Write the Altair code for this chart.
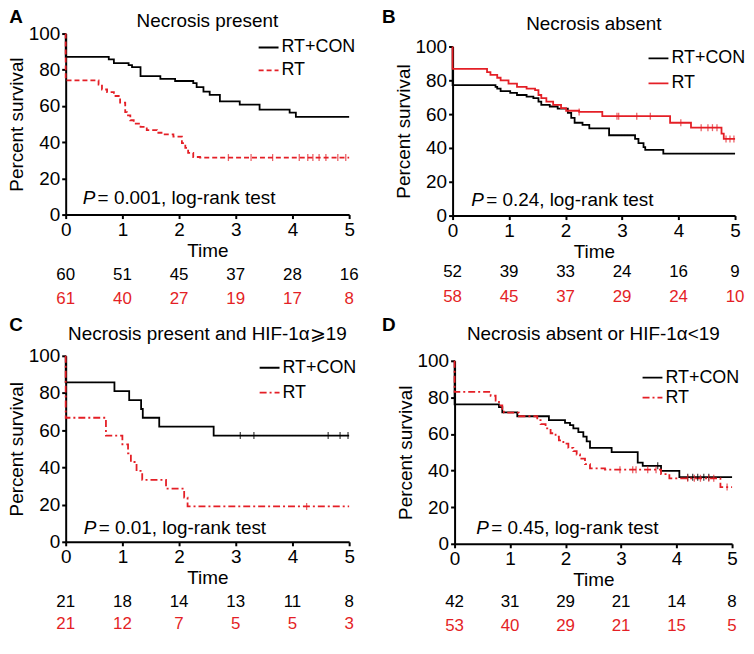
import altair as alt
import pandas as pd

FONT = "Liberation Sans"
RED = "#e41f26"
GROUPS = ["RT+CON", "RT"]
TIME_TICKS = [0, 1, 2, 3, 4, 5]
SURV_TICKS = [0, 20, 40, 60, 80, 100]

# ---------------- Panel A : Necrosis present ----------------
A_title = "Necrosis present"
A_con_t = [0, 0, 0.76, 0.85, 1.11, 1.17, 1.32, 1.67, 1.93, 2.25, 2.31, 2.43, 2.54, 2.72, 3.07, 3.42, 3.95, 4.06, 5.0]
A_con_s = [100, 87.1, 85.7, 83.7, 82.6, 81.4, 76.5, 75.0, 73.8, 72.6, 70.4, 67.9, 66.1, 62.5, 60.7, 58.0, 56.3, 54.0, 54.0]
A_rt_t = [0, 0, 0.58, 0.64, 0.73, 0.85, 0.96, 1.05, 1.08, 1.14, 1.20, 1.32, 1.43, 1.61, 1.73, 1.90, 2.05, 2.11, 2.16, 2.25, 2.37, 5.0]
A_rt_s = [100, 74.1, 71.8, 69.1, 67.7, 65.5, 61.9, 56.6, 54.8, 52.1, 50.3, 48.5, 46.7, 45.2, 44.3, 43.1, 39.5, 36.8, 34.1, 31.8, 31.5, 31.5]
A_con_cens = []
A_rt_cens = [2.87, 3.27, 3.65, 4.12, 4.27, 4.36, 4.47, 4.59, 4.80, 4.94]
A_pval = ["= 0.001, log-rank test"]
A_pval_t = [0.30]
A_pval_s = [9.1]
A_risk_con = [60, 51, 45, 37, 28, 16]
A_risk_rt = [61, 40, 27, 19, 17, 8]

# ---------------- Panel B : Necrosis absent ----------------
B_title = "Necrosis absent"
B_con_t = [0, 0, 0.76, 0.79, 0.85, 1.02, 1.14, 1.31, 1.43, 1.52, 1.57, 1.72, 1.86, 2.04, 2.10, 2.16, 2.30, 2.42, 2.77, 3.23, 3.29, 3.38, 3.41, 3.73, 5.0]
B_con_s = [100, 77.1, 76.1, 75.1, 73.6, 72.6, 71.3, 70.3, 69.4, 67.4, 65.5, 64.5, 63.2, 60.7, 57.8, 54.9, 53.6, 51.6, 47.5, 45.3, 42.8, 40.5, 38.9, 36.6, 36.6]
B_rt_t = [0, 0, 0.61, 0.67, 0.79, 0.85, 0.99, 1.14, 1.31, 1.46, 1.52, 1.57, 1.66, 1.78, 1.92, 2.01, 2.24, 2.65, 3.85, 4.22, 4.76, 4.80, 5.0]
B_rt_s = [100, 86.7, 84.8, 83.2, 81.5, 80.0, 78.0, 76.1, 75.1, 74.2, 71.3, 69.4, 67.4, 65.5, 63.6, 62.0, 61.3, 58.8, 54.9, 52.0, 48.5, 45.3, 45.3]
B_con_cens = []
B_rt_cens = [2.24, 2.91, 2.94, 3.26, 3.50, 4.04, 4.40, 4.52, 4.60, 4.68, 4.84, 4.91, 4.98]
B_pval = ["= 0.24, log-rank test"]
B_pval_t = [0.33]
B_pval_s = [9.2]
B_risk_con = [52, 39, 33, 24, 16, 9]
B_risk_rt = [58, 45, 37, 29, 24, 10]

# ---------------- Panel C : Necrosis present and HIF-1a >= 19 ----------------
C_title = "Necrosis present and HIF-1\u03b1\u2a7e19"
C_con_t = [0, 0, 0.86, 1.12, 1.33, 1.36, 1.65, 2.61, 5.0]
C_con_s = [100, 85.7, 81.0, 76.2, 71.4, 66.7, 61.9, 57.1, 57.1]
C_rt_t = [0, 0, 0.71, 1.00, 1.10, 1.15, 1.25, 1.35, 1.77, 2.09, 2.15, 5.0]
C_rt_s = [100, 66.7, 57.1, 52.4, 47.6, 42.9, 38.1, 33.3, 28.6, 23.8, 19.0, 19.0]
C_con_cens = [3.08, 3.32, 4.63, 4.84, 4.98]
C_rt_cens = [4.25]
C_pval = ["= 0.01, log-rank test"]
C_pval_t = [0.32]
C_pval_s = [7.4]
C_risk_con = [21, 18, 14, 13, 11, 8]
C_risk_rt = [21, 12, 7, 5, 5, 3]

# ---------------- Panel D : Necrosis absent or HIF-1a < 19 ----------------
D_title = "Necrosis absent or HIF-1\u03b1<19"
D_con_t = [0, 0, 0.80, 0.86, 1.13, 1.70, 1.99, 2.08, 2.14, 2.23, 2.32, 2.38, 2.44, 2.83, 3.30, 3.39, 3.72, 4.05, 5.0]
D_con_s = [100, 76.2, 74.7, 71.8, 69.7, 67.6, 66.1, 64.8, 63.1, 61.0, 58.6, 56.0, 52.4, 50.1, 44.4, 42.6, 39.9, 36.4, 36.4]
D_rt_t = [0, 0, 0.65, 0.74, 0.80, 0.86, 0.89, 1.16, 1.49, 1.55, 1.64, 1.73, 1.82, 1.88, 1.96, 2.05, 2.14, 2.20, 2.26, 2.35, 2.44, 2.71, 3.72, 3.87, 4.79, 5.0]
D_rt_s = [100, 83.0, 80.9, 78.3, 75.6, 73.8, 71.7, 69.7, 67.6, 65.4, 63.1, 60.4, 58.6, 56.5, 54.7, 52.4, 50.6, 48.8, 46.5, 43.5, 41.2, 40.5, 38.1, 35.8, 31.0, 31.0]
D_con_cens = [3.66, 4.20, 4.29, 4.38, 4.49, 4.58]
D_rt_cens = [2.98, 3.21, 3.27, 3.48, 3.63, 4.20, 4.32, 4.43, 4.58, 4.67, 4.91]
D_pval = ["= 0.45, log-rank test"]
D_pval_t = [0.39]
D_pval_s = [8.6]
D_risk_con = [42, 31, 29, 21, 14, 8]
D_risk_rt = [53, 40, 29, 21, 15, 5]


def surv_at(ts, ss, t):
    val = ss[0]
    for ti, si in zip(ts, ss):
        if ti <= t:
            val = si
    return val


def panel(letter, title, con_t, con_s, rt_t, rt_s, con_cens, rt_cens, dash,
          pval, pval_t, pval_s, risk_con, risk_rt, W, H, ytop, title_y, letter_x, letter_y,
          leg_x, leg_y, leg_pad, risk_off):
    rows = []
    for g, ts, ss in (("RT+CON", con_t, con_s), ("RT", rt_t, rt_s)):
        for i, (t, s) in enumerate(zip(ts, ss)):
            rows.append({"group": g, "t": t, "s": s, "i": i})
    df = pd.DataFrame(rows)

    xs = alt.Scale(domain=[0, 5], nice=False, zero=False)
    ys = alt.Scale(domain=[0, 100], nice=False, range=[H, ytop])
    x = alt.X("t:Q", scale=xs, axis=alt.Axis(values=TIME_TICKS, title="Time", format="d"))
    y = alt.Y("s:Q", scale=ys, axis=alt.Axis(values=SURV_TICKS, title="Percent survival", format="d"))

    leg = alt.Legend(title=None, orient="none", legendX=leg_x, legendY=leg_y, padding=0,
                     symbolType="stroke", symbolSize=400, symbolStrokeWidth=1.8,
                     labelFontSize=18, labelFont=FONT, labelColor="black",
                     rowPadding=leg_pad, labelOffset=2)

    lines = alt.Chart(df).mark_line(interpolate="step-after", strokeWidth=1.8).encode(
        x=x, y=y, order=alt.Order("i:Q"),
        color=alt.Color("group:N", sort=GROUPS,
                        scale=alt.Scale(domain=GROUPS, range=["black", RED]), legend=leg),
        strokeDash=alt.StrokeDash("group:N", sort=GROUPS,
                                  scale=alt.Scale(domain=GROUPS, range=[[1, 0], dash]), legend=leg),
    )

    layers = [lines]
    for ts, ss, cens, col in ((con_t, con_s, con_cens, "black"), (rt_t, rt_s, rt_cens, RED)):
        if cens:
            cdf = pd.DataFrame({"t": cens, "s": [surv_at(ts, ss, c) for c in cens]})
            layers.append(alt.Chart(cdf).mark_tick(orient="vertical", size=7, thickness=1.3, color=col)
                          .encode(x=x, y=y))

    pdf = pd.DataFrame({"t": pval_t, "s": pval_s, "p": ["P"], "rest": pval})
    layers.append(alt.Chart(pdf).mark_text(align="left", baseline="middle", fontStyle="italic",
                                           fontSize=19, font=FONT, color="black")
                  .encode(x=x, y=y, text="p:N"))
    layers.append(alt.Chart(pdf).mark_text(align="left", baseline="middle", dx=15,
                                           fontSize=19, font=FONT, color="black")
                  .encode(x=x, y=y, text="rest:N"))

    for vals, col, off in ((risk_con, "black", risk_off[0]), (risk_rt, RED, risk_off[1])):
        rdf = pd.DataFrame({"t": TIME_TICKS, "n": vals})
        layers.append(alt.Chart(rdf).mark_text(align="center", baseline="middle", fontSize=17,
                                               font=FONT, color=col)
                      .encode(x=x, y=alt.value(H + off), text="n:Q"))

    ldf = pd.DataFrame({"L": [letter], "T": [title]})
    layers.append(alt.Chart(ldf).mark_text(align="center", baseline="middle", fontSize=19,
                                           fontWeight="bold", font=FONT, color="black")
                  .encode(x=alt.value(letter_x), y=alt.value(letter_y), text="L:N"))
    layers.append(alt.Chart(ldf).mark_text(align="center", baseline="middle", fontSize=19,
                                           font=FONT, color="black")
                  .encode(x=alt.value(W / 2), y=alt.value(title_y), text="T:N"))

    return alt.layer(*layers).properties(width=W, height=H)


pA = panel("A", A_title, A_con_t, A_con_s, A_rt_t, A_rt_s, A_con_cens, A_rt_cens, [5, 3],
           A_pval, A_pval_t, A_pval_s, A_risk_con, A_risk_rt,
           285, 182, 0, -13, -50, -17, 193, 3, 3, (61, 85))
pB = panel("B", B_title, B_con_t, B_con_s, B_rt_t, B_rt_s, B_con_cens, B_rt_cens, [1, 0],
           B_pval, B_pval_t, B_pval_s, B_risk_con, B_risk_rt,
           284, 183, 13, -10, -64, -17, 196, 14, 5, (57, 82))
pC = panel("C", C_title, C_con_t, C_con_s, C_rt_t, C_rt_s, C_con_cens, C_rt_cens, [7, 3, 2, 3],
           C_pval, C_pval_t, C_pval_s, C_risk_con, C_risk_rt,
           285, 187, 0, -22, -50, -31, 194, 1, 5, (61, 83))
pD = panel("D", D_title, D_con_t, D_con_s, D_rt_t, D_rt_s, D_con_cens, D_rt_cens, [7, 3, 2, 3],
           D_pval, D_pval_t, D_pval_s, D_risk_con, D_risk_rt,
           279, 189, 5, -22, -66, -31, 188, 11, 0, (59, 83))

res = dict(color="independent", strokeDash="independent")
row1 = alt.hconcat(pA, pB, spacing=23).resolve_scale(**res).resolve_legend(**res)
row2 = alt.hconcat(pC, pD, spacing=25).resolve_scale(**res).resolve_legend(**res)

chart = (
    alt.vconcat(row1, row2, spacing=9)
    .resolve_scale(**res).resolve_legend(**res)
    .properties(padding={"left": -1, "top": -2, "right": 0, "bottom": -2})
    .configure_view(stroke=None)
    .configure_axis(domainColor="black", domainWidth=2, tickColor="black", tickWidth=2,
                    tickSize=4, labelFont=FONT, labelFontSize=19, labelColor="black",
                    titleFont=FONT, titleFontSize=19, titleFontWeight="normal",
                    titleColor="black", grid=False, labelPadding=2, labelFlush=False)
    .configure_axisX(titlePadding=2)
    .configure_axisY(titlePadding=2)
)

chart.save("out.html", embed_options={"renderer": "svg", "actions": False})
